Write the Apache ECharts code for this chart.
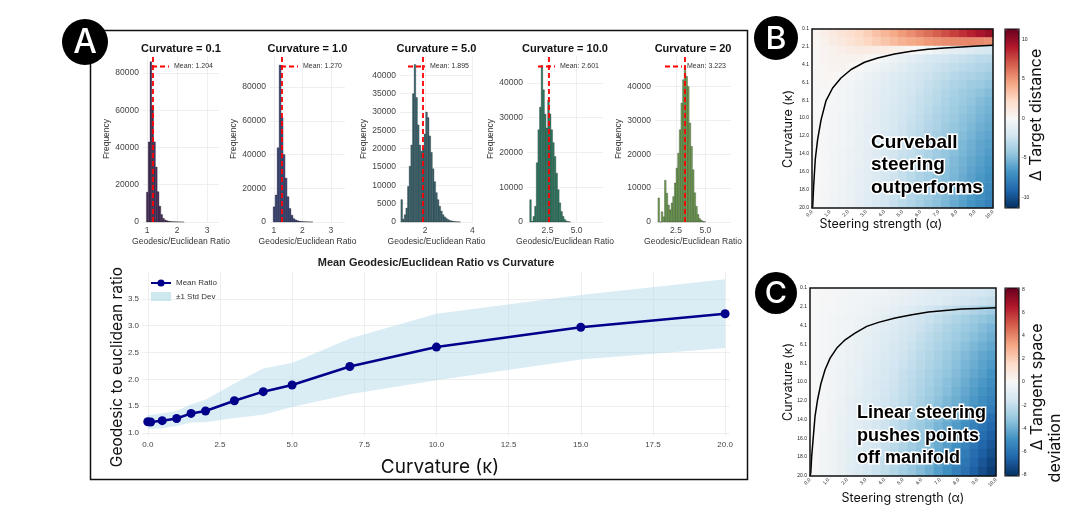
<!DOCTYPE html>
<html>
<head>
<meta charset="utf-8">
<script src="https://cdn.jsdelivr.net/npm/echarts@6/dist/echarts.min.js"></script>
<style>
  html, body { margin: 0; padding: 0; background: #fff; }
  #main { width: 1085px; height: 516px; }
</style>
</head>
<body>
<div id="main"></div>
<script>
// ---- panel A: histograms of the geodesic/euclidean ratio ----
var histTitles = ['Curvature = 0.1', 'Curvature = 1.0', 'Curvature = 5.0', 'Curvature = 10.0', 'Curvature = 20'];
var histMeans = [1.204, 1.270, 1.895, 2.601, 3.223];
var histStart = [0.98, 0.97, 0.98, 0.98, 0.96];
var histWidth = [0.06, 0.07, 0.07, 0.14, 0.14];
var countsK01 = [16000, 43000, 86000, 62000, 43000, 29500, 16300, 8500, 4000, 2000, 1100, 700, 450, 300, 200, 130, 90, 60, 40, 25, 15];
var countsK1 = [9000, 16000, 44000, 93000, 62000, 40000, 26000, 15000, 8000, 4000, 2000, 1200, 700, 450, 300, 200, 130, 80, 50, 30];
var countsK5 = [6100, 800, 2000, 3800, 9700, 15200, 21000, 35000, 43000, 34000, 26500, 21000, 19300, 20000, 24000, 30000, 28500, 23500,
  19000, 14500, 11000, 8000, 6100, 4300, 3000, 2000, 1400, 1000, 700, 450, 300, 200, 120, 80, 50, 30];
var countsK10 = [6400, 200, 1600, 4500, 17000, 26500, 33000, 45000, 38000, 31000, 27000, 35000, 31000, 26500, 22800, 18800, 14000, 9300,
  5500, 3000, 1600, 700, 300, 120, 50];
var countsK20 = [7100, 0, 3000, 1500, 12300, 8500, 5000, 3600, 5600, 7500, 11500, 15900, 20300, 27200, 35100, 42000, 45900, 43000, 40000,
  29200, 22300, 15400, 8600, 4600, 2200, 1000, 500, 200, 100];
var histCounts = [countsK01, countsK1, countsK5, countsK10, countsK20];
var histXMin = [0.867, 0.86, 0.943, 0.75, 0.71];
var histXMax = [3.4, 3.5, 4.03, 7.25, 7.19];
var histYMax = [89100, 98400, 45300, 47700, 49000];
var histXTicks = [[1, 2, 3], [1, 2, 3], [2, 4], [2.5, 5], [2.5, 5]];
var histXDigits = [0, 0, 0, 1, 1];
var histYTicks = [
  [0, 20000, 40000, 60000, 80000],
  [0, 20000, 40000, 60000, 80000],
  [0, 5000, 10000, 15000, 20000, 25000, 30000, 35000, 40000],
  [0, 10000, 20000, 30000, 40000],
  [0, 10000, 20000, 30000, 40000]
];

// ---- panel A: mean ratio vs curvature ----
var curvature = [0, 0.1, 0.5, 1, 1.5, 2, 3, 4, 5, 7, 10, 15, 20];
var meanRatio = [1.21, 1.204, 1.23, 1.27, 1.365, 1.41, 1.60, 1.77, 1.895, 2.24, 2.601, 2.97, 3.223];
var stdRatio = [0.13, 0.13, 0.14, 0.14, 0.17, 0.21, 0.32, 0.43, 0.41, 0.52, 0.62, 0.60, 0.64];
var lineXTicks = [0, 2.5, 5, 7.5, 10, 12.5, 15, 17.5, 20];
var lineYTicks = [1.0, 1.5, 2.0, 2.5, 3.0, 3.5];

// ---- panels B and C: heatmaps over steering strength x curvature ----
var alphaCols = ['0.0', '0.5', '1.0', '1.5', '2.0', '2.5', '3.0', '3.5', '4.0', '4.5', '5.0', '5.5', '6.0', '6.5', '7.0', '7.5', '8.0', '8.5', '9.0', '9.5', '10.0'];
var kappaRows = ['0.1', '1.1', '2.1', '3.1', '4.1', '5.1', '6.1', '7.1', '8.1', '9.1', '10.0', '11.0', '12.0', '13.0', '14.0', '15.0', '16.0', '17.0', '18.0', '19.0', '20.0'];
var kappaTicks = [0.1, 2.1, 4.1, 6.1, 8.1, 10.0, 12.0, 14.0, 16.0, 18.0, 20.0];

var targetDelta = [
  [0.3, 0.7, 1.1, 1.5, 1.9, 2.3, 2.8, 3.3, 3.8, 4.3, 4.8, 5.3, 5.8, 6.3, 6.8, 7.3, 7.8, 8.3, 8.8, 9.3, 9.8],
  [0.2, 0.5, 0.9, 1.2, 1.6, 2.0, 2.4, 2.8, 3.2, 3.6, 4.0, 4.3, 4.6, 4.9, 5.1, 5.3, 5.4, 5.5, 5.5, 5.4, 5.2],
  [0.1, 0.3, 0.5, 0.7, 0.9, 1.0, 1.0, 0.9, 0.8, 0.6, 0.4, 0.2, 0.0, -0.3, -0.6, -0.9, -1.2, -1.4, -1.6, -1.8, -2.0],
  [0.1, 0.3, 0.4, 0.5, 0.5, 0.4, 0.2, 0.0, -0.3, -0.6, -0.9, -1.2, -1.5, -1.8, -2.0, -2.2, -2.4, -2.6, -2.8, -3.0, -3.1],
  [0.1, 0.2, 0.3, 0.3, 0.2, 0.0, -0.3, -0.5, -0.8, -1.0, -1.3, -1.6, -1.9, -2.1, -2.4, -2.6, -2.8, -3.0, -3.2, -3.4, -3.6],
  [0.1, 0.2, 0.2, 0.0, -0.2, -0.4, -0.7, -0.9, -1.2, -1.4, -1.6, -1.9, -2.2, -2.4, -2.7, -2.9, -3.2, -3.4, -3.6, -3.8, -4.0],
  [0.1, 0.1, 0.0, -0.2, -0.4, -0.6, -0.8, -1.0, -1.3, -1.5, -1.8, -2.0, -2.3, -2.6, -2.9, -3.2, -3.5, -3.7, -4.0, -4.2, -4.5],
  [0.1, 0.0, -0.1, -0.3, -0.5, -0.7, -0.9, -1.1, -1.4, -1.6, -1.9, -2.2, -2.5, -2.8, -3.1, -3.4, -3.7, -4.0, -4.3, -4.6, -4.9],
  [0.05, -0.05, -0.2, -0.3, -0.5, -0.7, -0.9, -1.2, -1.4, -1.7, -2.0, -2.3, -2.6, -2.9, -3.2, -3.6, -3.9, -4.2, -4.5, -4.9, -5.2],
  [0.0, -0.1, -0.2, -0.3, -0.5, -0.7, -1.0, -1.2, -1.5, -1.8, -2.1, -2.4, -2.7, -3.0, -3.4, -3.7, -4.0, -4.4, -4.7, -5.1, -5.4],
  [0.0, -0.1, -0.2, -0.4, -0.6, -0.8, -1.0, -1.3, -1.6, -1.9, -2.2, -2.5, -2.8, -3.2, -3.5, -3.9, -4.2, -4.6, -4.9, -5.3, -5.6],
  [0.0, -0.1, -0.2, -0.4, -0.6, -0.8, -1.1, -1.3, -1.6, -1.9, -2.3, -2.6, -2.9, -3.3, -3.6, -4.0, -4.4, -4.7, -5.1, -5.5, -5.8],
  [0.0, -0.1, -0.2, -0.4, -0.6, -0.8, -1.1, -1.4, -1.7, -2.0, -2.3, -2.7, -3.0, -3.4, -3.8, -4.1, -4.5, -4.9, -5.3, -5.7, -6.0],
  [0.0, -0.1, -0.3, -0.4, -0.6, -0.9, -1.1, -1.4, -1.7, -2.1, -2.4, -2.8, -3.1, -3.5, -3.9, -4.3, -4.7, -5.1, -5.5, -5.9, -6.2],
  [0.0, -0.1, -0.3, -0.5, -0.7, -0.9, -1.2, -1.5, -1.8, -2.1, -2.5, -2.8, -3.2, -3.6, -4.0, -4.4, -4.8, -5.2, -5.6, -6.0, -6.4],
  [0.0, -0.1, -0.3, -0.5, -0.7, -0.9, -1.2, -1.5, -1.8, -2.2, -2.6, -2.9, -3.3, -3.7, -4.1, -4.5, -5.0, -5.4, -5.8, -6.2, -6.6],
  [0.0, -0.1, -0.3, -0.5, -0.7, -1.0, -1.3, -1.6, -1.9, -2.2, -2.6, -3.0, -3.4, -3.8, -4.2, -4.7, -5.1, -5.5, -6.0, -6.4, -6.8],
  [0.0, -0.1, -0.3, -0.5, -0.8, -1.0, -1.3, -1.6, -2.0, -2.3, -2.7, -3.1, -3.5, -3.9, -4.4, -4.8, -5.2, -5.7, -6.1, -6.6, -7.0],
  [0.0, -0.2, -0.3, -0.6, -0.8, -1.0, -1.3, -1.7, -2.0, -2.4, -2.8, -3.2, -3.6, -4.0, -4.5, -4.9, -5.4, -5.8, -6.3, -6.8, -7.2],
  [0.0, -0.2, -0.4, -0.6, -0.8, -1.1, -1.4, -1.7, -2.1, -2.5, -2.9, -3.3, -3.7, -4.1, -4.6, -5.0, -5.5, -6.0, -6.5, -7.0, -7.4],
  [0.0, -0.2, -0.4, -0.6, -0.8, -1.1, -1.4, -1.8, -2.2, -2.6, -3.0, -3.4, -3.8, -4.3, -4.7, -5.2, -5.7, -6.2, -6.7, -7.2, -7.7]
];

var tangentDelta = [
  [0, -0.05, -0.1, -0.15, -0.2, -0.25, -0.3, -0.35, -0.4, -0.5, -0.6, -0.7, -0.8, -0.9, -1.0, -1.1, -1.2, -1.3, -1.4, -1.5, -1.6],
  [0, -0.05, -0.1, -0.2, -0.25, -0.3, -0.4, -0.45, -0.5, -0.6, -0.7, -0.8, -0.9, -1.0, -1.1, -1.25, -1.4, -1.5, -1.65, -1.8, -1.95],
  [0, -0.1, -0.15, -0.2, -0.3, -0.35, -0.45, -0.55, -0.65, -0.8, -0.95, -1.1, -1.3, -1.5, -1.7, -1.9, -2.1, -2.3, -2.5, -2.7, -2.9],
  [0, -0.1, -0.2, -0.3, -0.35, -0.45, -0.55, -0.7, -0.85, -1.0, -1.2, -1.4, -1.6, -1.8, -2.0, -2.25, -2.5, -2.75, -3.0, -3.2, -3.4],
  [0, -0.1, -0.2, -0.3, -0.4, -0.5, -0.65, -0.8, -0.95, -1.15, -1.35, -1.55, -1.75, -2.0, -2.25, -2.5, -2.75, -3.0, -3.25, -3.5, -3.75],
  [0, -0.1, -0.2, -0.3, -0.45, -0.6, -0.75, -0.9, -1.05, -1.25, -1.45, -1.65, -1.9, -2.15, -2.4, -2.65, -2.9, -3.2, -3.45, -3.7, -4.0],
  [0, -0.1, -0.2, -0.35, -0.5, -0.65, -0.8, -0.95, -1.15, -1.35, -1.55, -1.8, -2.05, -2.3, -2.55, -2.8, -3.1, -3.4, -3.7, -3.95, -4.2],
  [0, -0.1, -0.25, -0.4, -0.55, -0.7, -0.85, -1.0, -1.2, -1.4, -1.65, -1.9, -2.15, -2.4, -2.7, -3.0, -3.3, -3.6, -3.9, -4.2, -4.45],
  [0, -0.1, -0.25, -0.4, -0.55, -0.7, -0.9, -1.1, -1.3, -1.5, -1.75, -2.0, -2.25, -2.5, -2.8, -3.1, -3.4, -3.75, -4.05, -4.35, -4.65],
  [0, -0.15, -0.3, -0.45, -0.6, -0.75, -0.95, -1.15, -1.35, -1.6, -1.85, -2.1, -2.35, -2.65, -2.95, -3.25, -3.55, -3.9, -4.2, -4.5, -4.85],
  [0, -0.15, -0.3, -0.45, -0.6, -0.8, -1.0, -1.2, -1.4, -1.65, -1.9, -2.15, -2.45, -2.75, -3.05, -3.4, -3.7, -4.05, -4.4, -4.7, -5.05],
  [0, -0.15, -0.3, -0.45, -0.65, -0.85, -1.05, -1.25, -1.5, -1.75, -2.0, -2.25, -2.55, -2.85, -3.2, -3.5, -3.85, -4.2, -4.55, -4.9, -5.25],
  [0, -0.15, -0.3, -0.5, -0.7, -0.9, -1.1, -1.3, -1.55, -1.8, -2.05, -2.35, -2.65, -2.95, -3.3, -3.65, -4.0, -4.35, -4.7, -5.1, -5.45],
  [0, -0.15, -0.35, -0.5, -0.7, -0.9, -1.1, -1.35, -1.6, -1.85, -2.15, -2.45, -2.75, -3.1, -3.45, -3.8, -4.15, -4.5, -4.9, -5.3, -5.65],
  [0, -0.15, -0.35, -0.55, -0.75, -0.95, -1.15, -1.4, -1.65, -1.95, -2.25, -2.55, -2.85, -3.2, -3.55, -3.95, -4.4, -4.85, -5.3, -5.75, -6.15],
  [0, -0.15, -0.35, -0.55, -0.75, -0.95, -1.2, -1.45, -1.7, -2.0, -2.3, -2.65, -3.0, -3.35, -3.75, -4.15, -4.6, -5.05, -5.5, -5.95, -6.4],
  [0, -0.2, -0.35, -0.55, -0.8, -1.0, -1.25, -1.5, -1.8, -2.1, -2.4, -2.75, -3.1, -3.45, -3.9, -4.35, -4.8, -5.25, -5.75, -6.2, -6.65],
  [0, -0.2, -0.4, -0.6, -0.8, -1.05, -1.3, -1.55, -1.85, -2.15, -2.5, -2.85, -3.2, -3.6, -4.05, -4.5, -5.0, -5.45, -5.95, -6.45, -6.9],
  [0, -0.2, -0.4, -0.6, -0.85, -1.1, -1.35, -1.6, -1.9, -2.25, -2.6, -2.95, -3.3, -3.7, -4.2, -4.7, -5.2, -5.7, -6.2, -6.7, -7.15],
  [0, -0.2, -0.4, -0.6, -0.85, -1.1, -1.4, -1.7, -2.0, -2.35, -2.7, -3.05, -3.45, -3.85, -4.35, -4.85, -5.35, -5.9, -6.4, -6.95, -7.45],
  [0, -0.2, -0.4, -0.65, -0.9, -1.15, -1.45, -1.75, -2.05, -2.4, -2.8, -3.15, -3.55, -4.0, -4.5, -5.0, -5.55, -6.1, -6.65, -7.2, -7.7]
];

// zero-level contours
var contourTargetAlpha = [10, 9.17, 8.25, 7.32, 6.4, 5.48, 4.56, 3.63, 2.9, 2.16, 1.6, 1.14, 0.77, 0.5, 0.31, 0.18, 0.09, 0.04, 0.0];
var contourTargetKappa = [1.92, 1.99, 2.1, 2.21, 2.36, 2.58, 2.88, 3.32, 3.8, 4.6, 5.55, 6.66, 8.1, 10.2, 12.4, 14.6, 17.6, 19.8, 20.0];
var contourTangentAlpha = [10, 9.07, 8.17, 7.27, 6.37, 5.48, 4.58, 3.68, 3.05, 2.42, 1.89, 1.44, 1.08, 0.81, 0.59, 0.41, 0.27, 0.18, 0.09, 0.04, 0.0];
var contourTangentKappa = [2.19, 2.26, 2.33, 2.47, 2.65, 2.93, 3.28, 3.74, 4.16, 4.87, 5.58, 6.46, 7.52, 8.76, 10.2, 11.9, 13.7, 15.8, 17.95, 19.7, 20.0];

var targetRange = 11.3;
var tangentRange = 8.1;
var targetBarTicks = [-10, -5, 0, 5, 10];
var tangentBarTicks = [-8, -6, -4, -2, 0, 2, 4, 6, 8];

// ---------------------------------------------------------------
var SANS = '"Liberation Sans", Arial, sans-serif';
var INTER = 'Inter, "Liberation Sans", sans-serif';
var RDBU = ['#053061', '#2166ac', '#4393c3', '#92c5de', '#d1e5f0', '#f7f7f7', '#fddbc7', '#f4a582', '#d6604d', '#b2182b', '#67001f'];
var histColors = ['#4a2f5e', '#424b7c', '#3a6873', '#2f8068', '#73a654'];
var histLeft = [143, 270, 400, 527, 655];
var histPlotW = [76, 75, 73, 76, 76];
var legendLeft = [151, 280, 407, 537, 664];
var GRIDLINE = { show: true, lineStyle: { color: '#ebebeb', width: 0.8 } };

function zip(a, b) {
  return a.map(function (v, i) { return [v, b[i]]; });
}

function cells(rows) {
  var out = [];
  rows.forEach(function (row, i) {
    row.forEach(function (v, j) { out.push([j, i, v]); });
  });
  return out;
}

function binRenderer(color) {
  return function (params, api) {
    var top = api.coord([api.value(0), api.value(2)]);
    var bottom = api.coord([api.value(1), 0]);
    return {
      type: 'rect',
      shape: { x: top[0], y: top[1], width: bottom[0] - top[0], height: bottom[1] - top[1] },
      style: { fill: color, stroke: 'rgba(20,20,20,0.8)', lineWidth: 0.35 }
    };
  };
}

// ±1 std band drawn as one polygon through the axis scales
function bandRenderer(params, api) {
  var upper = curvature.map(function (c, i) { return api.coord([c, meanRatio[i] + stdRatio[i]]); });
  var lower = curvature.map(function (c, i) { return api.coord([c, meanRatio[i] - stdRatio[i]]); }).reverse();
  return { type: 'polygon', shape: { points: upper.concat(lower) }, style: { fill: 'rgba(173,216,230,0.45)' } };
}

function label(text, x, y, size, opts) {
  opts = opts || {};
  return {
    type: 'text', x: x, y: y, rotation: opts.rotate ? Math.PI / 2 : 0, z: 100,
    style: {
      text: text, fill: opts.color || '#111', textAlign: opts.align || 'center', textVerticalAlign: 'middle',
      font: (opts.weight || 'normal') + ' ' + size + 'px ' + (opts.family || SANS),
      lineHeight: opts.lineHeight,
      stroke: opts.stroke, lineWidth: opts.strokeWidth, strokeFirst: true
    }
  };
}

var grids = [], xAxes = [], yAxes = [], series = [], legends = [], visualMaps = [], graphics = [];

// ---- histograms ----
histCounts.forEach(function (counts, k) {
  grids.push({ left: histLeft[k], top: 56, width: histPlotW[k], height: 166, containLabel: false, outerBoundsMode: 'none' });
  xAxes.push({
    type: 'value', gridIndex: k, min: histXMin[k], max: histXMax[k],
    axisLine: { show: false }, axisTick: { show: false, customValues: histXTicks[k] },
    axisLabel: {
      customValues: histXTicks[k], fontSize: 8.5, color: '#444', margin: 4, fontFamily: SANS,
      formatter: function (v) { return v.toFixed(histXDigits[k]); }
    },
    splitLine: GRIDLINE,
    name: 'Geodesic/Euclidean Ratio', nameLocation: 'middle', nameGap: 15, nameMoveOverlap: false,
    nameTextStyle: { fontSize: 8.5, color: '#333', fontFamily: SANS }
  });
  yAxes.push({
    type: 'value', gridIndex: k, min: 0, max: histYMax[k],
    axisLine: { show: false }, axisTick: { show: false, customValues: histYTicks[k] },
    axisLabel: {
      customValues: histYTicks[k], fontSize: 8.5, color: '#444', margin: 4, fontFamily: SANS,
      formatter: function (v) { return String(v); }
    },
    splitLine: GRIDLINE,
    name: 'Frequency', nameLocation: 'middle', nameGap: 32, nameRotate: 90, nameMoveOverlap: false,
    nameTextStyle: { fontSize: 8.5, color: '#333', fontFamily: SANS }
  });
  series.push({
    type: 'custom', name: histTitles[k], xAxisIndex: k, yAxisIndex: k, silent: true,
    data: counts.map(function (c, i) {
      var a = histStart[k] + i * histWidth[k];
      return [a, a + histWidth[k], c];
    }),
    encode: { x: [0, 1], y: 2 },
    renderItem: binRenderer(histColors[k])
  });
  var meanName = 'Mean: ' + histMeans[k].toFixed(3);
  series.push({
    type: 'line', name: meanName, xAxisIndex: k, yAxisIndex: k, silent: true,
    data: [[histMeans[k], 0]], symbol: 'none',
    itemStyle: { color: '#ff0000' },
    lineStyle: { color: '#ff0000', type: [5, 3], width: 1.8 },
    markLine: {
      silent: true, symbol: ['none', 'none'], label: { show: false },
      lineStyle: { color: '#ff0000', type: [5, 3], width: 1.8 },
      data: [{ xAxis: histMeans[k] }]
    },
    z: 5
  });
  legends.push({
    left: legendLeft[k], top: 63, padding: 0, itemWidth: 17, itemHeight: 8, selectedMode: false,
    itemStyle: { opacity: 0 },
    data: [meanName], textStyle: { fontSize: 7, color: '#333', fontFamily: SANS }
  });
  graphics.push(label(histTitles[k], histLeft[k] + histPlotW[k] / 2, 49, 11, { weight: 'bold' }));
});

// ---- mean ratio line chart (grid 5) ----
grids.push({ left: 142, top: 272, width: 588, height: 164, containLabel: false, outerBoundsMode: 'none' });
xAxes.push({
  type: 'value', gridIndex: 5, min: -0.2, max: 20.17,
  axisLine: { show: false }, axisTick: { show: false, customValues: lineXTicks },
  axisLabel: { customValues: lineXTicks, fontSize: 8, color: '#444', margin: 5, fontFamily: SANS, formatter: function (v) { return v.toFixed(1); } },
  splitLine: GRIDLINE
});
yAxes.push({
  type: 'value', gridIndex: 5, min: 0.944, max: 4.0,
  axisLine: { show: false }, axisTick: { show: false, customValues: lineYTicks },
  axisLabel: { customValues: lineYTicks, fontSize: 8, color: '#444', margin: 3, fontFamily: SANS, formatter: function (v) { return v.toFixed(1); } },
  splitLine: GRIDLINE
});
series.push({
  type: 'custom', name: '±1 Std Dev', xAxisIndex: 5, yAxisIndex: 5, silent: true,
  data: [[curvature[0], meanRatio[0]]],
  itemStyle: { color: 'rgba(173,216,230,0.6)' },
  renderItem: bandRenderer, z: 2
});
series.push({
  type: 'line', name: 'Mean Ratio', xAxisIndex: 5, yAxisIndex: 5, silent: true,
  data: zip(curvature, meanRatio),
  symbol: 'circle', symbolSize: 9,
  itemStyle: { color: '#00008b' }, lineStyle: { color: '#00008b', width: 2.5 }, z: 4
});
legends.push({
  left: 150, top: 279, orient: 'vertical', padding: 0, itemGap: 5, itemWidth: 20, itemHeight: 9, selectedMode: false,
  data: [{ name: 'Mean Ratio' }, { name: '±1 Std Dev', icon: 'rect', itemStyle: { color: 'rgba(173,216,230,0.6)' } }],
  textStyle: { fontSize: 8, color: '#333', fontFamily: SANS }
});
graphics.push(label('Mean Geodesic/Euclidean Ratio vs Curvature', 436, 263, 11, { weight: 'bold', color: '#222' }));
graphics.push(label('Geodesic to euclidean ratio', 117, 367, 15.5, { rotate: true, family: INTER }));
graphics.push(label('Curvature (κ)', 440, 467, 19, { family: INTER }));

// ---- heatmap panels ----
function addHeatmap(rows, range, rect, barRect, contourA, contourK, barTicks) {
  var g = grids.length;
  // category grid that holds the cells
  grids.push({ left: rect.left, top: rect.top, width: rect.width, height: rect.height, containLabel: false, outerBoundsMode: 'none' });
  xAxes.push({ type: 'category', gridIndex: g, data: alphaCols, show: false });
  yAxes.push({ type: 'category', gridIndex: g, data: kappaRows, inverse: true, show: false });
  var seriesIndex = series.length;
  series.push({
    type: 'heatmap', xAxisIndex: xAxes.length - 1, yAxisIndex: yAxes.length - 1, silent: true,
    data: cells(rows), progressive: 0
  });
  // value grid on top for ticks and the contour
  grids.push({ left: rect.left, top: rect.top, width: rect.width, height: rect.height, containLabel: false, outerBoundsMode: 'none' });
  xAxes.push({
    type: 'value', gridIndex: g + 1, min: 0, max: 10, interval: 1,
    axisLine: { show: false }, axisTick: { show: false }, splitLine: { show: false },
    axisLabel: { fontSize: 5, color: '#222', rotate: 45, margin: 3, fontFamily: SANS, formatter: function (v) { return v.toFixed(1); } }
  });
  yAxes.push({
    type: 'value', gridIndex: g + 1, min: 0.1, max: 20, inverse: true,
    axisLine: { show: false }, axisTick: { show: false, customValues: kappaTicks }, splitLine: { show: false },
    axisLabel: { customValues: kappaTicks, fontSize: 5, color: '#222', margin: 3, fontFamily: SANS, formatter: function (v) { return v.toFixed(1); } }
  });
  series.push({
    type: 'line', xAxisIndex: xAxes.length - 1, yAxisIndex: yAxes.length - 1, silent: true,
    data: zip(contourA, contourK), symbol: 'none',
    lineStyle: { color: '#000', width: 1.5 }, z: 6
  });
  // colour bar axis
  grids.push({ left: barRect.left, top: barRect.top, width: barRect.width, height: barRect.height, containLabel: false, outerBoundsMode: 'none' });
  xAxes.push({ type: 'value', gridIndex: g + 2, show: false, min: 0, max: 1 });
  yAxes.push({
    type: 'value', gridIndex: g + 2, position: 'right', min: -range, max: range,
    axisLine: { show: false }, splitLine: { show: false },
    axisTick: { show: true, length: 2, customValues: barTicks, lineStyle: { color: '#333', width: 0.6 } },
    axisLabel: { customValues: barTicks, fontSize: 5, color: '#222', margin: 3, fontFamily: SANS }
  });
  visualMaps.push({
    type: 'continuous', seriesIndex: seriesIndex, min: -range, max: range, calculable: false,
    left: barRect.left, top: barRect.top, itemWidth: barRect.width, itemHeight: barRect.height,
    padding: 0, text: null, showLabel: false, hoverLink: false, realtime: false,
    inRange: { color: RDBU }
  });
  graphics.push({ type: 'rect', z: 90, shape: { x: rect.left, y: rect.top, width: rect.width, height: rect.height }, style: { fill: 'none', stroke: '#111', lineWidth: 1.5 } });
  graphics.push({ type: 'rect', z: 90, shape: { x: barRect.left, y: barRect.top, width: barRect.width, height: barRect.height }, style: { fill: 'none', stroke: '#111', lineWidth: 1.2 } });
}

addHeatmap(targetDelta, targetRange, { left: 812, top: 29, width: 181, height: 179 }, { left: 1005, top: 29, width: 14, height: 179 },
  contourTargetAlpha, contourTargetKappa, targetBarTicks);
addHeatmap(tangentDelta, tangentRange, { left: 810, top: 288, width: 186, height: 188 }, { left: 1005, top: 288, width: 14, height: 188 },
  contourTangentAlpha, contourTangentKappa, tangentBarTicks);

graphics.push(label('Steering strength (α)', 881, 224, 12.5, { family: INTER }));
graphics.push(label('Curvature (κ)', 788, 129, 12.5, { rotate: true, family: INTER }));
graphics.push(label('Δ Target distance', 1036, 115, 16, { rotate: true, family: INTER }));
graphics.push(label('Steering strength (α)', 903, 498, 12.5, { family: INTER }));
graphics.push(label('Curvature (κ)', 788, 382, 12.5, { rotate: true, family: INTER }));
graphics.push(label('Δ Tangent space', 1037, 387, 16, { rotate: true, family: INTER }));
graphics.push(label('deviation', 1055, 448, 16, { rotate: true, family: INTER }));
graphics.push(label('Curveball\nsteering\noutperforms', 871, 165, 19,
  { weight: 'bold', align: 'left', lineHeight: 22.5, stroke: '#fff', strokeWidth: 3, color: '#000' }));
graphics.push(label('Linear steering\npushes points\noff manifold', 857, 436, 18,
  { weight: 'bold', align: 'left', lineHeight: 22.5, stroke: '#fff', strokeWidth: 3, color: '#000' }));

// ---- panel box and letters ----
graphics.push({ type: 'rect', z: 80, shape: { x: 90.5, y: 30.5, width: 657, height: 449 }, style: { fill: 'none', stroke: '#111', lineWidth: 1.5 } });
[['A', 85, 42, 23], ['B', 776, 38, 22], ['C', 776, 293, 21]].forEach(function (p) {
  graphics.push({ type: 'circle', z: 110, shape: { cx: p[1], cy: p[2], r: p[3] }, style: { fill: '#000' } });
  graphics.push({
    type: 'text', z: 111, x: p[1], y: p[2] + 1,
    style: { text: p[0], fill: '#fff', textAlign: 'center', textVerticalAlign: 'middle', font: '500 ' + (p[3] * 1.45) + 'px ' + INTER }
  });
});

var chart = echarts.init(document.getElementById('main'));
chart.setOption({
  animation: false,
  backgroundColor: '#fff',
  textStyle: { fontFamily: SANS },
  grid: grids,
  xAxis: xAxes,
  yAxis: yAxes,
  legend: legends,
  visualMap: visualMaps,
  series: series,
  graphic: graphics
});
</script>
</body>
</html>
